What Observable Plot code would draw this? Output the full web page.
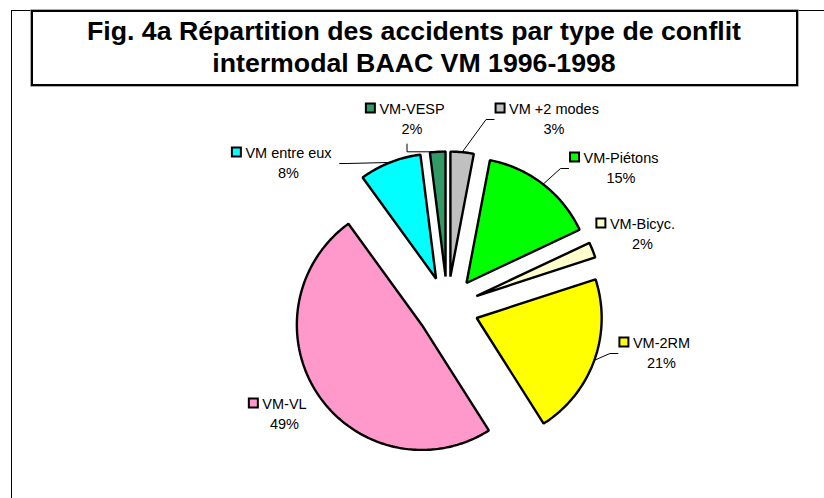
<!DOCTYPE html>
<html>
<head>
<meta charset="utf-8">
<script src="https://cdn.jsdelivr.net/npm/d3@7"></script>
<script src="https://cdn.jsdelivr.net/npm/@observablehq/plot@0.6"></script>
<style>
  body { margin: 0; background: #fff; }
  #wrap { position: relative; width: 824px; height: 498px; overflow: hidden; font-family: "Liberation Sans", Arial, sans-serif; }
  #chart { position: absolute; left: 0; top: 0; }
  #frame { position: absolute; left: 11px; top: 10px; width: 813px; height: 488px; border-left: 1px solid #000; border-top: 1px solid #000; pointer-events: none; }
  #title { position: absolute; left: 30.5px; top: 10px; width: 763px; height: 72px; border: 2px solid #000; box-shadow: 0 0 0 0.7px #888; background: #fff; }
  #title div { position: absolute; left: 0; right: 0; top: 2.5px; text-align: center; font-weight: bold; font-size: 26.7px; line-height: 32.3px; color: #000; white-space: nowrap; }
</style>
</head>
<body>
<div id="wrap">
  <div id="chart"></div>
  <div id="frame"></div>
  <div id="title"><div>Fig. 4a Répartition des accidents par type de conflit<br>intermodal BAAC VM 1996-1998</div></div>
</div>
<script>
// ---- data ----
const categories = ["VM +2 modes", "VM-Piétons", "VM-Bicyc.", "VM-2RM", "VM-VL", "VM entre eux", "VM-VESP"];
const shares = [3, 15, 2, 21, 49, 8, 2];
const pctLabels = ["3%", "15%", "2%", "21%", "49%", "8%", "2%"];
const colors = ["#C0C0C0", "#00FF00", "#FFFFCC", "#FFFF00", "#FF99CC", "#00FFFF", "#339966"];

// ---- layout (pixels relative to the pie centre) ----
const R = 125, EXPLODE = 31;
const labelAt = [[106.5, -194], [173.5, -145], [195, -79], [214, 40], [-163, 101], [-159, -150], [-35.5, -194]];
const leaderKind = ["side", "side", "none", "side", "none", "side", "below"];
const FONT = "'Liberation Sans', Arial, sans-serif";
const FS = 14.5;

const ctx = document.createElement("canvas").getContext("2d");
ctx.font = `${FS}px ${FONT}`;

const arcs = d3.pie().sort(null).value(d => d)(shares);
const pt = (r, a) => ({x: r * Math.sin(a), y: -r * Math.cos(a)});

const slices = arcs.map((a, i) => {
  const m = (a.startAngle + a.endAngle) / 2;
  const o = pt(EXPLODE, m);
  const pts = [{x: o.x, y: o.y}];
  const n = Math.max(2, Math.ceil((a.endAngle - a.startAngle) / (Math.PI / 180)));
  for (let k = 0; k <= n; k++) {
    const t = a.startAngle + (a.endAngle - a.startAngle) * k / n;
    const p = pt(R, t);
    pts.push({x: o.x + p.x, y: o.y + p.y});
  }
  return {name: categories[i], color: colors[i], mid: m, pts};
});

const labels = categories.map((name, i) => {
  const [cx, by] = labelAt[i];
  const w = ctx.measureText(name).width;
  return {name, pct: pctLabels[i], color: colors[i], cx, by, py: by + 20.5,
          kx1: cx - w / 2 - 13, kx2: cx - w / 2 - 4, ky1: by - 9.5, ky2: by - 0.5,
          left: cx - w / 2 - 13, right: cx + w / 2};
});

const leaders = [];
labels.forEach((l, i) => {
  const kind = leaderKind[i];
  if (kind === "none") return;
  const s = pt(R + EXPLODE, slices[i].mid);
  let e, b;
  if (kind === "below") {
    e = {x: l.cx - 5, y: l.py + 10};
    b = {x: e.x, y: s.y};
  } else if (l.cx > s.x) {
    e = {x: l.left - 2, y: l.by + 6};
    b = {x: e.x - 8, y: e.y};
  } else {
    e = {x: l.right + 8, y: l.by + 6};
    b = {x: e.x + 8, y: e.y};
  }
  leaders.push([s, b, e]);
});

const chart = Plot.plot({
  width: 824,
  height: 498,
  margin: 0,
  x: {type: "linear", domain: [-447, 377], range: [0, 824], axis: null},
  y: {type: "linear", domain: [-307, 191], range: [0, 498], axis: null},
  color: {type: "identity"},
  marks: [
    ...slices.map(s => Plot.line(s.pts, {x: "x", y: "y", fill: s.color, stroke: "#000", strokeWidth: 2.4, strokeLinejoin: "miter", curve: "linear-closed"})),
    ...leaders.map(L => Plot.line(L, {x: "x", y: "y", stroke: "#000", strokeWidth: 1})),
    Plot.rect(labels, {x1: "kx1", x2: "kx2", y1: "ky1", y2: "ky2", fill: "color", stroke: "#000", strokeWidth: 2}),
    Plot.text(labels, {x: "cx", y: "by", text: "name", textAnchor: "middle", lineAnchor: "bottom", fontSize: FS, fontFamily: FONT, fill: "#000"}),
    Plot.text(labels, {x: "cx", y: "py", text: "pct", textAnchor: "middle", lineAnchor: "bottom", fontSize: FS, fontFamily: FONT, fill: "#000"})
  ]
});
document.getElementById("chart").appendChild(chart);
</script>
</body>
</html>
